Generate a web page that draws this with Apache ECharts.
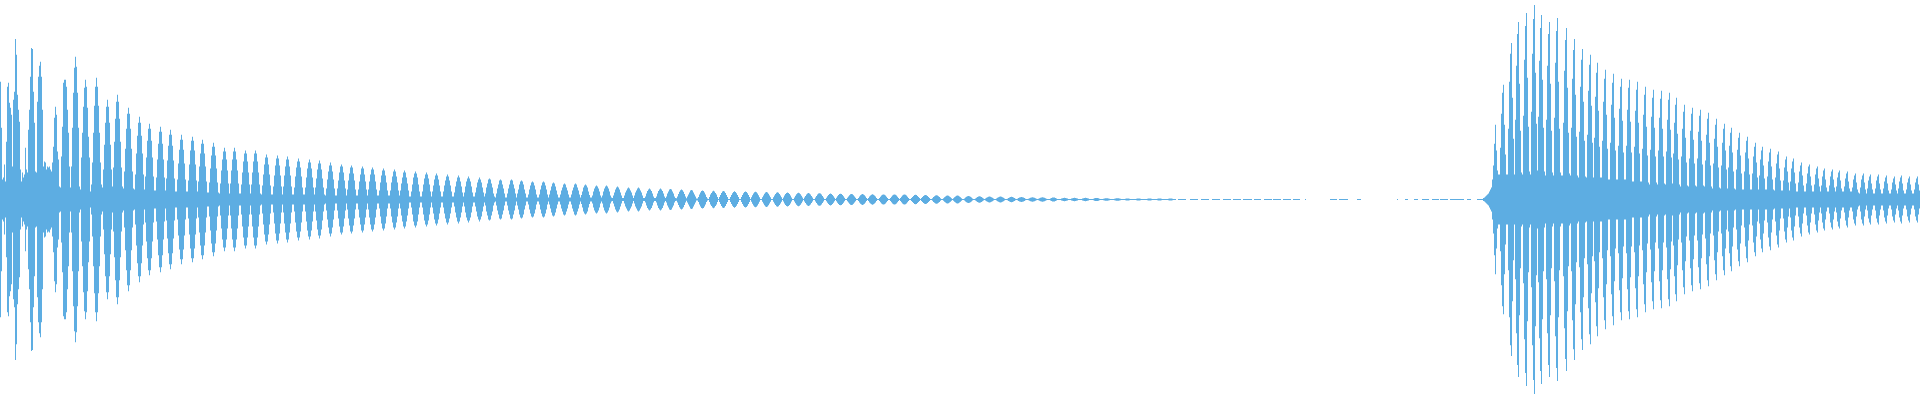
<!DOCTYPE html>
<html>
<head>
<meta charset="utf-8">
<style>html,body{margin:0;padding:0;background:#ffffff}#chart{width:1920px;height:400px}</style>
<script src="https://cdn.jsdelivr.net/npm/echarts@6/dist/echarts.min.js"></script>
</head>
<body>
<div id="chart"></div>
<script>
// Peak amplitude of the waveform per sample column (full scale = 200)
const amplitude = [
/*0*/ 118,72,20,22,35,18,58,113,117,97,
/*10*/ 92,85,33,100,108,161,145,105,90,78,
/*20*/ 30,18,27,22,25,52,30,27,70,90,
/*30*/ 123,152,151,108,77,28,27,98,123,134,
/*40*/ 138,123,90,33,38,37,30,33,32,33,
/*50*/ 30,28,37,53,82,93,85,48,40,13,
/*60*/ 12,43,73,117,120,120,113,90,67,33,
/*70*/ 12,33,72,107,132,143,133,107,72,13,
/*80*/ 10,42,67,93,112,120,113,92,63,42,
/*90*/ 8,15,37,67,94,113,122,113,94,67,
/*100*/ 37,15,12,30,55,77,93,100,93,77,
/*110*/ 55,30,13,32,58,81,98,105,98,81,
/*120*/ 58,32,13,11,28,51,71,86,92,86,
/*130*/ 71,51,28,11,10,25,46,64,77,83,
/*140*/ 77,64,46,25,10,23,42,59,71,76,
/*150*/ 71,59,42,23,9,9,22,40,56,68,
/*160*/ 73,68,56,40,22,9,21,39,54,65,
/*170*/ 70,65,54,39,21,8,8,20,36,50,
/*180*/ 60,65,60,50,36,20,8,8,19,35,
/*190*/ 49,59,63,59,49,35,19,8,18,33,
/*200*/ 46,56,60,56,46,33,18,7,7,17,
/*210*/ 31,44,53,57,53,44,31,17,7,6,
/*220*/ 16,29,40,48,52,48,40,29,16,6,
/*230*/ 16,29,40,48,52,48,40,29,16,6,
/*240*/ 6,15,27,38,46,49,46,38,27,15,
/*250*/ 6,15,27,38,46,49,46,38,27,15,
/*260*/ 6,5,14,25,35,42,45,42,35,25,
/*270*/ 14,5,5,13,24,34,41,44,41,34,
/*280*/ 24,13,5,13,24,33,40,43,40,33,
/*290*/ 24,13,5,5,12,23,32,38,41,38,
/*300*/ 32,23,12,5,5,12,22,31,37,40,
/*310*/ 37,31,22,12,5,12,21,30,36,39,
/*320*/ 36,30,21,12,5,4,11,20,28,34,
/*330*/ 37,34,28,20,11,4,4,11,19,27,
/*340*/ 33,35,33,27,19,11,4,10,19,26,
/*350*/ 32,34,32,26,19,10,4,4,10,18,
/*360*/ 25,31,33,31,25,18,10,4,10,18,
/*370*/ 25,30,32,30,25,18,10,4,4,9,
/*380*/ 17,24,29,31,29,24,17,9,4,4,
/*390*/ 9,17,23,28,30,28,23,17,9,4,
/*400*/ 9,16,22,27,29,27,22,16,9,3,
/*410*/ 3,8,15,22,26,28,26,22,15,8,
/*420*/ 3,3,8,15,21,25,27,25,21,15,
/*430*/ 8,3,8,14,20,24,26,24,20,14,
/*440*/ 8,3,3,8,14,19,23,25,23,19,
/*450*/ 14,8,3,3,7,13,18,22,24,22,
/*460*/ 18,13,7,3,7,13,18,21,23,21,
/*470*/ 18,13,7,3,3,7,12,17,20,22,
/*480*/ 20,17,12,7,3,6,12,16,20,21,
/*490*/ 20,16,12,6,3,2,6,11,15,19,
/*500*/ 20,19,15,11,6,2,2,6,11,15,
/*510*/ 19,20,19,15,11,6,2,6,10,15,
/*520*/ 18,19,18,15,10,6,2,2,5,10,
/*530*/ 14,17,18,17,14,10,5,2,2,5,
/*540*/ 10,14,17,18,17,14,10,5,2,5,
/*550*/ 9,13,16,17,16,13,9,5,2,2,
/*560*/ 5,9,12,15,16,15,12,9,5,2,
/*570*/ 2,5,9,12,15,16,15,12,9,5,
/*580*/ 2,4.5,8,12,14,15,14,12,8,4.5,
/*590*/ 2,2,4,8,11,13,14,13,11,8,
/*600*/ 4,2,4,8,11,13,14,13,11,8,
/*610*/ 4,2,1.5,4,7,10,12,13,12,10,
/*620*/ 7,4,1.5,1.5,4,7,9,11,12,11,
/*630*/ 9,7,4,1.5,4,7,9,11,12,11,
/*640*/ 9,7,4,1.5,1.5,3,6,8.5,10,11,
/*650*/ 10,8.5,6,3,1.5,1.5,3,6,8.5,10,
/*660*/ 11,10,8.5,6,3,1.5,3,6,8,10,
/*670*/ 10.5,10,8,6,3,1.5,1.2,3,5.5,7.7,
/*680*/ 9.3,10,9.3,7.7,5.5,3,1.2,3,5,7,
/*690*/ 9,9.5,9,7,5,3,1,1,2.5,5,
/*700*/ 7,8.5,9,8.5,7,5,2.5,1,.5,2.5,
/*710*/ 5,6.5,8,8.7,8,6.5,5,2.5,.5,2.5,
/*720*/ 4.5,6.5,8,8.5,8,6.5,4.5,2.5,.5,.5,
/*730*/ 2.5,4.5,6.3,7.6,8.2,7.6,6.3,4.5,2.5,.5,
/*740*/ .5,2.4,4.4,6.2,7.4,8,7.4,6.2,4.4,2.4,
/*750*/ .5,2.3,4.2,6,7.2,7.7,7.2,6,4.2,2.3,
/*760*/ .5,.5,2.2,4.1,5.8,7,7.5,7,5.8,4.1,
/*770*/ 2.2,.5,.5,2.2,4,5.5,6.7,7.2,6.7,5.5,
/*780*/ 4,2.2,.5,2.1,3.9,5.4,6.5,7,6.5,5.4,
/*790*/ 3.9,2.1,.5,.5,2,3.7,5.2,6.2,6.7,6.2,
/*800*/ 5.2,3.7,2,.5,2,3.6,5,6,6.5,6,
/*810*/ 5,3.6,2,.5,.5,1.9,3.5,4.9,5.9,6.3,
/*820*/ 5.9,4.9,3.5,1.9,.5,.5,1.8,3.3,4.6,5.6,
/*830*/ 6,5.6,4.6,3.3,1.8,.5,1.7,3.2,4.5,5.4,
/*840*/ 5.8,5.4,4.5,3.2,1.7,.5,.5,1.7,3.1,4.3,
/*850*/ 5.2,5.6,5.2,4.3,3.1,1.7,.5,.5,1.6,3,
/*860*/ 4.2,5,5.4,5,4.2,3,1.6,.5,1.6,2.9,
/*870*/ 4,4.8,5.2,4.8,4,2.9,1.6,.5,.5,1.5,
/*880*/ 2.8,3.9,4.7,5,4.7,3.9,2.8,1.5,.5,.5,
/*890*/ 1.5,2.8,3.9,4.7,5,4.7,3.9,2.8,1.5,.5,
/*900*/ 1.5,2.8,3.9,4.7,5,4.7,3.9,2.8,1.5,.5,
/*910*/ .5,1.4,2.6,3.6,4.4,4.7,4.4,3.6,2.6,1.4,
/*920*/ .5,1.4,2.5,3.5,4.2,4.5,4.2,3.5,2.5,1.4,
/*930*/ .5,.5,1.3,2.4,3.3,4,4.3,4,3.3,2.4,
/*940*/ 1.3,.5,.5,1.2,2.2,3.1,3.7,4,3.7,3.1,
/*950*/ 2.2,1.2,.5,1.2,2.2,3.1,3.7,4,3.7,3.1,
/*960*/ 2.2,1.2,.5,.5,1,1.9,2.7,3.3,3.5,3.3,
/*970*/ 2.7,1.9,1,.5,.5,1,1.8,2.5,3.1,3.3,
/*980*/ 3.1,2.5,1.8,1,.5,.9,1.7,2.3,2.8,3,
/*990*/ 2.8,2.3,1.7,.9,.5,.5,.9,1.7,2.3,2.8,
/*1000*/ 3,2.8,2.3,1.7,.9,.5,.5,.8,1.5,2.1,
/*1010*/ 2.5,2.7,2.5,2.1,1.5,.8,.5,.8,1.4,1.9,
/*1020*/ 2.3,2.5,2.3,1.9,1.4,.8,.5,.5,.7,1.3,
/*1030*/ 1.8,2.1,2.3,2.1,1.8,1.3,.7,.5,.7,1.3,
/*1040*/ 1.8,2.1,2.3,2.1,1.8,1.3,.7,.5,.5,.6,
/*1050*/ 1.1,1.5,1.9,2,1.9,1.5,1.1,.6,.5,.5,
/*1060*/ .5,.9,1.3,1.6,1.7,1.6,1.3,.9,.5,.5,
/*1070*/ .5,.9,1.3,1.6,1.7,1.6,1.3,.9,.5,.5,
/*1080*/ .5,.5,.9,1.3,1.6,1.7,1.6,1.3,.9,.5,
/*1090*/ .5,.5,.5,.8,1.2,1.4,1.5,1.4,1.2,.8,
/*1100*/ .5,.5,.5,.7,1,1.2,1.3,1.2,1,.7,
/*1110*/ .5,.5,.5,.5,.7,1,1.2,1.3,1.2,1,
/*1120*/ .7,.5,.5,.5,.5,.8,.9,1,.9,.8,
/*1130*/ .5,.5,.5,.5,.5,.5,.8,.9,1,.9,
/*1140*/ .8,.5,.5,.5,.5,.5,.5,.8,.9,1,
/*1150*/ .9,.8,.5,.5,.5,.5,.5,.8,.9,1,
/*1160*/ .9,.8,.5,.5,.5,.5,.5,.5,.8,.9,
/*1170*/ 1,.9,.8,.5,.5,.5,0,0,.5,.5,
/*1180*/ .5,.5,.5,.5,.5,.5,0,0,0,0,
/*1190*/ .5,.5,.5,.5,.5,.5,.5,.5,0,0,
/*1200*/ 0,.5,.5,.5,.5,.5,.5,.5,.5,0,
/*1210*/ 0,0,.5,.5,.5,.5,.5,.5,.5,.5,
/*1220*/ 0,0,0,.5,.5,.5,.5,.5,.5,.5,
/*1230*/ .5,0,0,.5,.5,.5,.5,.5,.5,.5,
/*1240*/ .5,0,0,.5,.5,.5,.5,.5,.5,.5,
/*1250*/ .5,.5,0,0,.5,.5,.5,.5,.5,.5,
/*1260*/ .5,0,0,0,.5,.5,.5,.5,.5,.5,
/*1270*/ .5,.5,0,.5,.5,.5,.5,.5,.5,.5,
/*1280*/ .5,0,0,.5,.5,.5,.5,.5,.5,.5,
/*1290*/ .5,0,0,.5,.5,.5,.5,.5,.5,.5,
/*1300*/ 0,0,0,0,0,.5,0,0,0,0,
/*1310*/ 0,0,0,0,0,0,0,0,0,0,
/*1320*/ 0,0,0,0,0,0,0,0,0,0,
/*1330*/ .5,.5,.5,.5,.5,.5,.5,0,0,.5,
/*1340*/ .5,.5,.5,.5,.5,.5,.5,.5,0,0,
/*1350*/ 0,0,0,0,0,0,0,.5,.5,.5,
/*1360*/ .5,0,0,0,0,0,0,0,0,0,
/*1370*/ 0,0,0,0,0,0,0,0,0,0,
/*1380*/ 0,0,0,0,0,0,0,0,0,0,
/*1390*/ 0,0,0,0,0,0,0,.5,0,0,
/*1400*/ 0,0,0,0,0,.5,.5,.5,0,0,
/*1410*/ 0,0,0,0,.5,.5,.5,.5,0,0,
/*1420*/ 0,0,.5,.5,.5,.5,.5,.5,.5,0,
/*1430*/ 0,0,.5,.5,.5,.5,.5,.5,.5,0,
/*1440*/ .5,.5,.5,.5,.5,.5,.5,.5,0,0,
/*1450*/ .5,.5,.5,.5,.5,.5,.5,.5,.5,.5,
/*1460*/ .5,.5,.5,.5,0,0,0,.5,.5,.5,
/*1470*/ .5,0,0,0,0,0,0,.5,.5,.5,
/*1480*/ .5,.5,.5,1.5,2,3,4,5,6,8,
/*1490*/ 10,12,20,34,56,75,49,29,25,25,
/*1500*/ 52,86,107,115,75,45,25,25,71,118,
/*1510*/ 146,157,102,61,25,80,134,166,178,116,
/*1520*/ 69,27,25,84,140,174,187,122,73,28,
/*1530*/ 25,88,146,181,195,127,76,29,83,139,
/*1540*/ 172,185,120,72,28,24,80,134,166,178,
/*1550*/ 116,69,27,24,82,137,169,182,118,71,
/*1560*/ 27,24,24,77,129,160,172,112,67,26,
/*1570*/ 24,72,121,150,161,105,63,24,22,68,
/*1580*/ 113,140,151,98,59,23,22,65,109,135,
/*1590*/ 145,94,57,22,62,103,127,137,89,53,
/*1600*/ 22,22,59,98,121,130,85,51,20,20,
/*1610*/ 57,95,117,126,82,49,20,20,54,91,
/*1620*/ 113,121,79,47,20,20,54,90,112,120,
/*1630*/ 78,47,18,18,53,89,110,118,77,46,
/*1640*/ 18,18,51,85,105,113,73,44,17,15,
/*1650*/ 50,83,102,110,72,43,17,15,49,82,
/*1660*/ 101,109,71,43,16,15,48,80,100,107,
/*1670*/ 70,42,16,46,77,95,102,66,40,15,
/*1680*/ 13,43,71,88,95,62,37,14,13,41,
/*1690*/ 69,86,92,60,36,14,13,41,68,84,
/*1700*/ 90,59,35,14,13,39,65,81,87,57,
/*1710*/ 34,13,11,36,61,75,81,53,32,12,
/*1720*/ 11,34,57,71,76,49,30,11,32,54,
/*1730*/ 67,72,47,28,11,10,30,50,62,67,
/*1740*/ 44,26,10,10,28,47,59,63,41,25,
/*1750*/ 10,10,26,43,53,57,37,22,10,24,
/*1760*/ 40,49,53,34,21,10,10,23,38,47,
/*1770*/ 51,33,20,10,9,22,36,45,48,31,
/*1780*/ 19,9,9,19,32,40,43,28,17,9,
/*1790*/ 18,31,38,41,27,16,8,8,17,28,
/*1800*/ 34,37,24,14,8,8,16,26,33,35,
/*1810*/ 23,14,8,8,15,25,31,33,21,13,
/*1820*/ 8,14,23,29,31,20,12,8,8,14,
/*1830*/ 23,28,30,20,12,8,13,22,27,29,
/*1840*/ 19,11,8,8,13,21,26,28,18,11,
/*1850*/ 8,8,12,20,24,26,17,10,7,6,
/*1860*/ 12,20,24,26,17,10,6,11,19,23,
/*1870*/ 25,16,10,6,6,11,19,23,25,16,
/*1880*/ 10,6,6,11,18,22,24,16,9,6,
/*1890*/ 6,10,17,21,23,15,9,6,11,18,
/*1900*/ 22,24,16,9,6,6,10,17,21,23,
/*1910*/ 15,9,6,6,10,17,21,23,15,9
];
const fullScale = 200;
const sampleIndex = amplitude.map((_, i) => i);
// each column is drawn as one bar spanning [-amplitude, +amplitude]
const lowerEdge = amplitude.map(v => -v);
const span = amplitude.map(v => 2 * v);

const chart = echarts.init(document.getElementById('chart'), null, { renderer: 'canvas' });
chart.setOption({
  animation: false,
  backgroundColor: '#ffffff',
  grid: { left: 0, right: 0, top: 0, bottom: 1 },
  xAxis: { type: 'category', data: sampleIndex, show: false, boundaryGap: true },
  yAxis: { type: 'value', min: -fullScale, max: fullScale, show: false },
  tooltip: { show: false },
  series: [
    { name: 'base', type: 'bar', stack: 'wave', stackStrategy: 'all', data: lowerEdge, barWidth: '100%', itemStyle: { color: 'rgba(0,0,0,0)' }, silent: true },
    { name: 'waveform', type: 'bar', stack: 'wave', stackStrategy: 'all', data: span, barWidth: '100%', itemStyle: { color: '#5DADE2' }, silent: true }
  ]
});
</script>
</body>
</html>
